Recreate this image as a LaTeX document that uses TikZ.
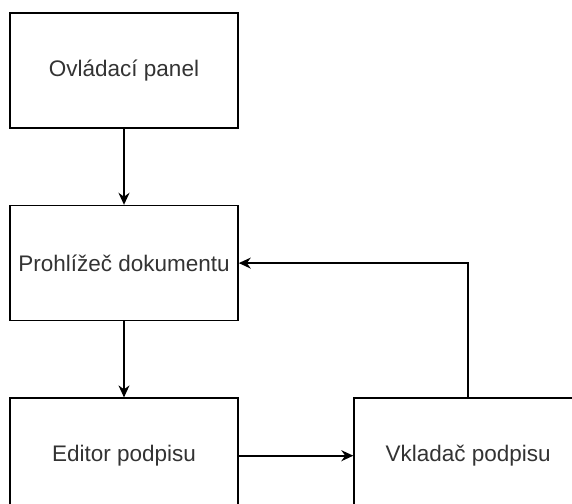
\documentclass[tikz,border=0pt]{standalone}
\usepackage{fontspec}
\setmainfont{Liberation Sans}
\usetikzlibrary{arrows.meta,positioning}

\begin{document}
\begin{tikzpicture}[
  x=1pt, y=1pt,
  >={Stealth[length=12pt,width=11pt]},
  node distance=76pt,
  block/.style={rectangle, draw=black, line width=1.6pt, fill=white,
    minimum width=228pt, minimum height=115pt, align=center,
    text=black!80, font=\fontsize{22.5}{25}\selectfont},
  link/.style={draw, line width=1.6pt, ->},
]
  \useasboundingbox (0,0) rectangle (572,-503);
  \clip (0,0) rectangle (572,-503);
  \node[block] (panel) at (124,-70.5) {Ovládací panel};
  \node[block, below=of panel] (viewer) {Prohlížeč dokumentu};
  \node[block, below=of viewer] (editor) {Editor podpisu};
  \node[block, right=114.5pt of editor] (inserter) {Vkladač podpisu};
  \draw[link] (panel)--(viewer);
  \draw[link] (viewer)--(editor);
  \draw[link] (editor)--(inserter);
  \draw[link] (inserter.north) |- (viewer.east);
\end{tikzpicture}
\end{document}
